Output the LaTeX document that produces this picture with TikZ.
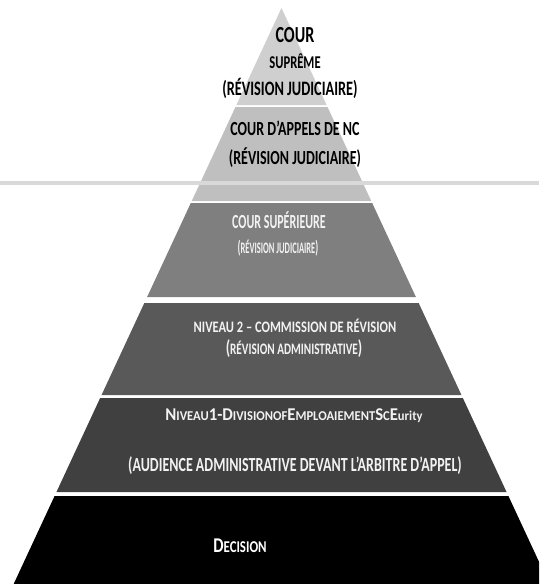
\documentclass[tikz,border=0pt]{standalone}
\usepackage{graphicx}
\usepackage{fontspec}
\setmainfont{Carlito}
\newcommand\fsz[1]{\fontsize{#1}{#1}\selectfont}
\newcommand\sqz[2]{\scalebox{#1}[1]{#2}}
\definecolor{lay1}{HTML}{CFCFCF}
\definecolor{lay2}{HTML}{BFBFBF}
\definecolor{lay3}{HTML}{7F7F7F}
\definecolor{lay4}{HTML}{595959}
\definecolor{lay5}{HTML}{404040}
\definecolor{lay6}{HTML}{000000}
\definecolor{hline}{HTML}{D9D9D9}
\definecolor{lighttext}{HTML}{F2F2F2}
\tikzset{
  lbl/.style={inner sep=0pt, anchor=center, font=\bfseries},
  darklbl/.style={lbl, text=black},
  litelbl/.style={lbl, text=lighttext},
}
\newcommand\pyrlayer[3]{%
  \fill[#3] ({281.5-0.465*(#1-8)},#1) -- ({281.5+0.465*(#1-8)},#1) --
    ({281.5+0.465*(#2-8)},#2) -- ({281.5-0.465*(#2-8)},#2) -- cycle;}
\begin{document}
\begin{tikzpicture}[x=1pt,y=-1pt]
\useasboundingbox (0,0) rectangle (539,584);
\begin{scope}
\clip (0,0) rectangle (539,584);
\fill[lay1] (281.5,8) -- ({281.5+0.465*97},105) -- ({281.5-0.465*97},105) -- cycle;
\pyrlayer{107}{201}{lay2}
\draw[hline, line width=3.5pt] (0,183) -- (539,183);
\pyrlayer{203}{297}{lay3}
\pyrlayer{303}{395}{lay4}
\pyrlayer{398}{492}{lay5}
\pyrlayer{496}{590}{lay6}
\end{scope}
% layer 1
\node[darklbl] (t1a) at (295,35) {\sqz{0.7}{\fsz{23}COUR}};
\node[darklbl] (t1b) at (295,61) {\sqz{0.7}{\fsz{18}SUPRÊME}};
\node[darklbl] (t1c) at (290,88) {\sqz{0.7}{\fsz{20.5}(RÉVISION JUDICIAIRE)}};
% layer 2
\node[darklbl] (t2a) at (295,128) {\sqz{0.7}{\fsz{20}COUR D’APPELS DE NC}};
\node[darklbl] (t2b) at (295,158) {\sqz{0.7}{\fsz{20}(RÉVISION JUDICIAIRE)}};
% layer 3
\node[litelbl] (t3a) at (279,220) {\sqz{0.6}{\fsz{20}COUR SUPÉRIEURE}};
\node[litelbl] (t3b) at (278,248) {\sqz{0.53}{{\fsz{18}(}{\fsz{16}RÉVISION JUDICIAIRE}{\fsz{18})}}};
% layer 4
\node[litelbl] (t4a) at (295,326) {\sqz{0.78}{\fsz{16}NIVEAU 2 – COMMISSION DE RÉVISION}};
\node[litelbl] (t4b) at (294,349) {\sqz{0.7}{{\fsz{20}(}{\fsz{16}RÉVISION ADMINISTRATIVE}{\fsz{20})}}};
% layer 5
\node[litelbl] (t5a) at (294,416) {\sqz{0.93}{{\fsz{18}N}{\fsz{13.5}IVEAU}{\fsz{18}1-D}{\fsz{13.5}IVISIONOF}{\fsz{18}E}{\fsz{13.5}MPLOAIEMENT}{\fsz{18}S}{\fsz{13.5}C}{\fsz{18}E}{\fsz{13.5}urity}}};
\node[litelbl] (t5b) at (295,466) {\sqz{0.7}{\fsz{20}(AUDIENCE ADMINISTRATIVE DEVANT L’ARBITRE D’APPEL)}};
% layer 6
\node[lbl, text=white] (t6a) at (240,546) {\sqz{0.78}{{\fsz{21}D}{\fsz{16.5}ECISION}}};
\end{tikzpicture}
\end{document}
